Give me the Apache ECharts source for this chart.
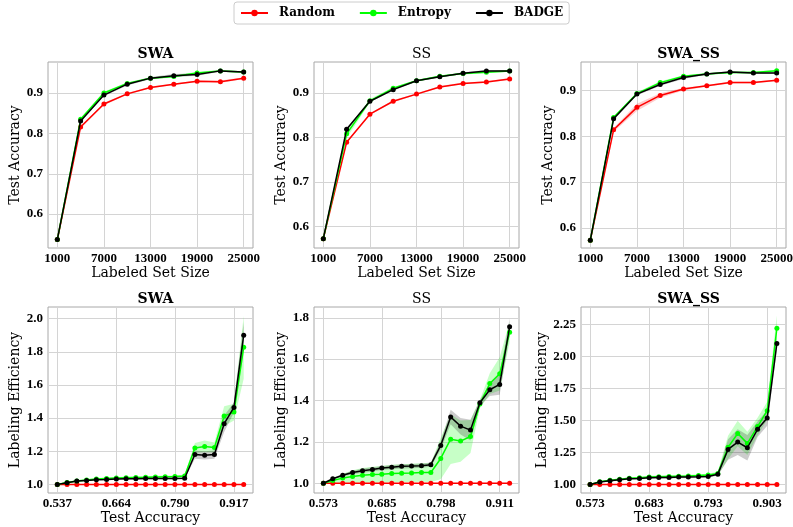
<!DOCTYPE html>
<html><head><meta charset="utf-8">
<script src="https://cdn.jsdelivr.net/npm/echarts@6/dist/echarts.min.js"></script>
<style>html,body{margin:0;padding:0;background:#fff}#c{width:793px;height:527px}</style>
</head><body><div id="c"></div>
<script>
// ---------- DATA ----------
const methods = ['Random', 'Entropy', 'BADGE'];
const sizes = [1000, 4000, 7000, 10000, 13000, 16000, 19000, 22000, 25000];
const sizeTicks = [1000, 7000, 13000, 19000, 25000];
const accTicks = [0.6, 0.7, 0.8, 0.9];

const swaRandom  = [0.537, 0.816, 0.873, 0.898, 0.914, 0.922, 0.929, 0.928, 0.937];
const swaEntropy = [0.537, 0.835, 0.900, 0.924, 0.937, 0.941, 0.950, 0.955, 0.952];
const swaBadge   = [0.537, 0.831, 0.895, 0.922, 0.937, 0.943, 0.946, 0.955, 0.952];
const swaRandomStd  = [0, 0.003, 0.003, 0.002, 0.002, 0.002, 0.002, 0.003, 0.002];
const swaEntropyStd = [0, 0.003, 0.003, 0.003, 0.002, 0.003, 0.003, 0.002, 0.002];
const swaBadgeStd   = [0, 0.003, 0.003, 0.003, 0.003, 0.004, 0.003, 0.002, 0.002];

const ssRandom  = [0.573, 0.789, 0.852, 0.881, 0.897, 0.913, 0.921, 0.924, 0.931];
const ssEntropy = [0.573, 0.808, 0.882, 0.910, 0.927, 0.937, 0.943, 0.946, 0.949];
const ssBadge   = [0.573, 0.818, 0.881, 0.907, 0.927, 0.936, 0.944, 0.949, 0.949];
const ssRandomStd  = [0, 0.002, 0.002, 0.002, 0.002, 0.002, 0.002, 0.002, 0.002];
const ssEntropyStd = [0, 0.010, 0.004, 0.003, 0.002, 0.002, 0.002, 0.002, 0.002];
const ssBadgeStd   = [0, 0.003, 0.002, 0.002, 0.002, 0.002, 0.002, 0.002, 0.002];

const swassRandom  = [0.573, 0.814, 0.863, 0.889, 0.903, 0.910, 0.917, 0.917, 0.922];
const swassEntropy = [0.573, 0.841, 0.893, 0.917, 0.931, 0.936, 0.939, 0.939, 0.943];
const swassBadge   = [0.573, 0.838, 0.892, 0.913, 0.928, 0.936, 0.940, 0.938, 0.938];
const swassRandomStd  = [0, 0.004, 0.008, 0.005, 0.003, 0.002, 0.002, 0.002, 0.002];
const swassEntropyStd = [0, 0.003, 0.003, 0.003, 0.002, 0.002, 0.002, 0.002, 0.002];
const swassBadgeStd   = [0, 0.003, 0.003, 0.003, 0.003, 0.002, 0.002, 0.002, 0.002];

const accSwa   = [0.537, 0.558, 0.579, 0.600, 0.621, 0.643, 0.664, 0.685, 0.706, 0.727, 0.748, 0.769, 0.790, 0.811, 0.833, 0.854, 0.875, 0.896, 0.917, 0.938];
const accSs    = [0.573, 0.591, 0.610, 0.629, 0.648, 0.667, 0.685, 0.704, 0.723, 0.742, 0.761, 0.779, 0.798, 0.817, 0.836, 0.855, 0.873, 0.892, 0.911, 0.930];
const accSwass = [0.573, 0.591, 0.610, 0.628, 0.646, 0.665, 0.683, 0.701, 0.720, 0.738, 0.756, 0.775, 0.793, 0.811, 0.830, 0.848, 0.866, 0.885, 0.903, 0.921];
const accSwaTicks   = [0.537, 0.664, 0.790, 0.917];
const accSsTicks    = [0.573, 0.685, 0.798, 0.911];
const accSwassTicks = [0.573, 0.683, 0.793, 0.903];
const effSwaTicks   = [1.0, 1.2, 1.4, 1.6, 1.8, 2.0];
const effSsTicks    = [1.0, 1.2, 1.4, 1.6, 1.8];
const effSwassTicks = [1.0, 1.25, 1.5, 1.75, 2.0, 2.25];

const effRandom = [1, 1, 1, 1, 1, 1, 1, 1, 1, 1, 1, 1, 1, 1, 1, 1, 1, 1, 1, 1];
const effRandomStd = [0, 0, 0, 0, 0, 0, 0, 0, 0, 0, 0, 0, 0, 0, 0, 0, 0, 0, 0, 0];

const effSwaEntropy = [1.0, 1.012, 1.02, 1.027, 1.032, 1.035, 1.038, 1.04, 1.042, 1.043, 1.045, 1.046, 1.047, 1.05, 1.22, 1.229, 1.223, 1.412, 1.436, 1.827];
const effSwaBadge   = [1.0, 1.01, 1.02, 1.024, 1.028, 1.03, 1.032, 1.034, 1.034, 1.035, 1.036, 1.036, 1.036, 1.037, 1.18, 1.175, 1.18, 1.366, 1.464, 1.90];
const effSwaEntropyStd = [0, 0.004, 0.005, 0.006, 0.006, 0.007, 0.007, 0.007, 0.007, 0.007, 0.007, 0.007, 0.007, 0.008, 0.03, 0.035, 0.03, 0.06, 0.05, 0.19];
const effSwaBadgeStd   = [0, 0.003, 0.004, 0.004, 0.005, 0.005, 0.005, 0.005, 0.005, 0.005, 0.005, 0.005, 0.005, 0.006, 0.025, 0.025, 0.025, 0.05, 0.03, 0.08];

const effSsEntropy = [1.0, 1.013, 1.025, 1.033, 1.039, 1.042, 1.044, 1.047, 1.049, 1.05, 1.052, 1.052, 1.12, 1.213, 1.204, 1.226, 1.383, 1.482, 1.529, 1.73];
const effSsBadge   = [1.0, 1.022, 1.039, 1.052, 1.061, 1.067, 1.074, 1.078, 1.082, 1.083, 1.085, 1.09, 1.183, 1.32, 1.276, 1.257, 1.389, 1.452, 1.478, 1.756];
const effSsEntropyStd = [0, 0.01, 0.02, 0.03, 0.035, 0.038, 0.04, 0.042, 0.043, 0.044, 0.045, 0.046, 0.1, 0.12, 0.1, 0.08, 0.02, 0.05, 0.08, 0.05];
const effSsBadgeStd   = [0, 0.004, 0.006, 0.008, 0.01, 0.01, 0.01, 0.01, 0.01, 0.01, 0.01, 0.01, 0.02, 0.035, 0.04, 0.05, 0.015, 0.03, 0.05, 0.04];

const effSwassEntropy = [1.0, 1.02, 1.032, 1.04, 1.048, 1.052, 1.058, 1.06, 1.062, 1.064, 1.066, 1.07, 1.074, 1.086, 1.289, 1.397, 1.32, 1.451, 1.575, 2.219];
const effSwassBadge   = [1.0, 1.018, 1.028, 1.036, 1.044, 1.046, 1.052, 1.054, 1.054, 1.057, 1.057, 1.059, 1.062, 1.08, 1.273, 1.33, 1.286, 1.43, 1.518, 2.10];
const effSwassEntropyStd = [0, 0.005, 0.006, 0.007, 0.008, 0.008, 0.009, 0.009, 0.01, 0.01, 0.01, 0.01, 0.01, 0.015, 0.09, 0.1, 0.09, 0.07, 0.07, 0.1];
const effSwassBadgeStd   = [0, 0.004, 0.005, 0.006, 0.007, 0.007, 0.008, 0.008, 0.008, 0.008, 0.008, 0.009, 0.009, 0.01, 0.08, 0.1, 0.1, 0.06, 0.06, 0.05];

// ---------- LAYOUT / STYLE ----------
const colors = ['#ff0000', '#00ff00', '#000000'];
const bandColors = ['rgba(255,0,0,0.2)', 'rgba(0,255,0,0.22)', 'rgba(0,0,0,0.2)'];
const tickFont = {fontFamily: 'Liberation Serif', fontWeight: 'bold', fontSize: 13, color: '#000'};
const nameFont = {fontFamily: 'DejaVu Serif', fontWeight: 'normal', fontSize: 14, color: '#000'};

const panels = [
  {title: 'SWA', tw: 'bold', left: 48, top: 62, x: sizes, xt: sizeTicks, yt: accTicks, xr: [-200, 26200], yr: [0.516, 0.977], xd: 0, yd: 1,
   xn: 'Labeled Set Size', yn: 'Test Accuracy', ys: [swaRandom, swaEntropy, swaBadge], sd: [swaRandomStd, swaEntropyStd, swaBadgeStd]},
  {title: 'SS', tw: 'normal', left: 314, top: 62, x: sizes, xt: sizeTicks, yt: accTicks, xr: [-200, 26200], yr: [0.552, 0.969], xd: 0, yd: 1,
   xn: 'Labeled Set Size', yn: 'Test Accuracy', ys: [ssRandom, ssEntropy, ssBadge], sd: [ssRandomStd, ssEntropyStd, ssBadgeStd]},
  {title: 'SWA_SS', tw: 'bold', left: 581, top: 62, x: sizes, xt: sizeTicks, yt: accTicks, xr: [-200, 26200], yr: [0.556, 0.962], xd: 0, yd: 1,
   xn: 'Labeled Set Size', yn: 'Test Accuracy', ys: [swassRandom, swassEntropy, swassBadge], sd: [swassRandomStd, swassEntropyStd, swassBadgeStd]},
  {title: 'SWA', tw: 'bold', left: 48, top: 307, x: accSwa, xt: accSwaTicks, yt: effSwaTicks, xr: [0.517, 0.958], yr: [0.948, 2.07], xd: 3, yd: 1,
   xn: 'Test Accuracy', yn: 'Labeling Efficiency', ys: [effRandom, effSwaEntropy, effSwaBadge], sd: [effRandomStd, effSwaEntropyStd, effSwaBadgeStd]},
  {title: 'SS', tw: 'normal', left: 314, top: 307, x: accSs, xt: accSsTicks, yt: effSsTicks, xr: [0.555, 0.948], yr: [0.953, 1.852], xd: 3, yd: 1,
   xn: 'Test Accuracy', yn: 'Labeling Efficiency', ys: [effRandom, effSsEntropy, effSsBadge], sd: [effRandomStd, effSsEntropyStd, effSsBadgeStd]},
  {title: 'SWA_SS', tw: 'bold', left: 581, top: 307, x: accSwass, xt: accSwassTicks, yt: effSwassTicks, xr: [0.556, 0.938], yr: [0.933, 2.384], xd: 3, yd: 2,
   xn: 'Test Accuracy', yn: 'Labeling Efficiency', ys: [effRandom, effSwassEntropy, effSwassBadge], sd: [effRandomStd, effSwassEntropyStd, effSwassBadgeStd]}
];
const W = 205, H = 186;

const grid = [], xAxis = [], yAxis = [], title = [], series = [];
panels.forEach((p, k) => {
  grid.push({left: p.left, top: p.top, width: W, height: H, show: true, borderColor: '#a8a8a8', borderWidth: 1, backgroundColor: 'transparent', outerBoundsMode: 'none'});
  title.push({text: p.title, left: p.left + W / 2, top: p.top - 20, textAlign: 'center',
    textStyle: {fontFamily: 'DejaVu Serif', fontWeight: p.tw, fontSize: 14, color: '#000'}});
  xAxis.push({type: 'value', gridIndex: k, min: p.xr[0], max: p.xr[1],
    name: p.xn, nameLocation: 'middle', nameGap: 17, nameTextStyle: nameFont,
    axisLine: {show: false}, axisTick: {show: false, customValues: p.xt},
    axisLabel: Object.assign({customValues: p.xt, margin: 4, formatter: v => Number(v).toFixed(p.xd)}, tickFont),
    splitLine: {show: true, lineStyle: {color: '#d4d4d4', width: 1}}});
  yAxis.push({type: 'value', gridIndex: k, min: p.yr[0], max: p.yr[1],
    name: p.yn, nameLocation: 'middle', nameGap: 25, nameTextStyle: nameFont,
    axisLine: {show: false}, axisTick: {show: false, customValues: p.yt},
    axisLabel: Object.assign({customValues: p.yt, margin: 5, formatter: v => Number(v).toFixed(p.yd)}, tickFont),
    splitLine: {show: true, lineStyle: {color: '#d4d4d4', width: 1}}});
  p.ys.forEach((vals, m) => {
    const sd = p.sd[m];
    const xs = p.x;
    series.push({type: 'custom', xAxisIndex: k, yAxisIndex: k, silent: true, z: 1,
      data: xs.map((xv, i) => [xv, vals[i]]),
      renderItem: (params, api) => {
        if (params.dataIndex !== 0) return null;
        const pts = [];
        xs.forEach((xv, i) => pts.push(api.coord([xv, vals[i] + sd[i]])));
        for (let i = xs.length - 1; i >= 0; i--) pts.push(api.coord([xs[i], vals[i] - sd[i]]));
        return {type: 'polygon', shape: {points: pts}, style: {fill: bandColors[m], stroke: null}};
      }});
  });
  p.ys.forEach((vals, m) => {
    series.push({type: 'line', name: methods[m], xAxisIndex: k, yAxisIndex: k, z: 3 + m,
      data: p.x.map((xv, i) => [xv, vals[i]]),
      symbol: 'circle', symbolSize: 5, showSymbol: true,
      lineStyle: {color: colors[m], width: 1.5}, itemStyle: {color: colors[m]},
      emphasis: {disabled: true}, animation: false});
  });
});

const chart = echarts.init(document.getElementById('c'), null, {renderer: 'canvas'});
chart.setOption({
  animation: false,
  backgroundColor: '#fff',
  title: title,
  legend: {data: methods, left: 234, top: 2, selectedMode: false,
    itemWidth: 27, itemHeight: 8, itemGap: 24, padding: [5, 6, 5, 6],
    borderColor: '#cccccc', borderWidth: 1, borderRadius: 3, backgroundColor: '#fff',
    textStyle: {fontFamily: 'DejaVu Serif', fontWeight: 'bold', fontSize: 12, color: '#000', padding: [0, 0, 0, 6]}},
  grid: grid, xAxis: xAxis, yAxis: yAxis, series: series
});
</script>
</body></html>
